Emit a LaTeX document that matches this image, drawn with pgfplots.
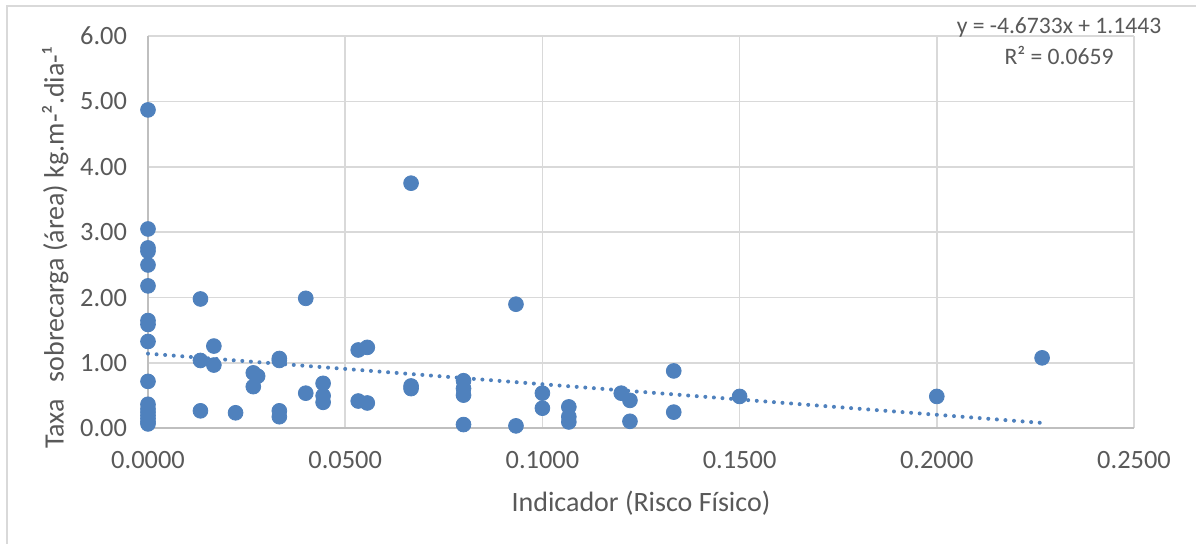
\documentclass[border=0pt]{standalone}
\usepackage{pgfplots}
\pgfplotsset{compat=1.18}
\usepackage{fontspec}
\setmainfont{Carlito}
\definecolor{ptblue}{RGB}{79,129,189}
\definecolor{gridgray}{RGB}{217,217,217}
\definecolor{axgray}{RGB}{191,191,191}
\definecolor{txtgray}{RGB}{89,89,89}
\begin{document}
\begin{tikzpicture}[x=0.5pt,y=0.5pt]
\useasboundingbox (0,0) rectangle (1196,544);
\fill[white] (0,0) rectangle (1196,544);
\draw[gridgray,line width=0.75pt] (7,0) -- (7,538) -- (1196,538);
\begin{axis}[
  at={(74pt,57.75pt)}, anchor=origin,
  scale only axis, width=493pt, height=196.25pt,
  xmin=0, xmax=0.25, ymin=0, ymax=6,
  xtick={0,0.05,0.1,0.15,0.2,0.25},
  ytick={0,1,2,3,4,5,6},
  grid=major,
  major grid style={gridgray,line width=0.75pt},
  axis x line*=bottom, axis y line*=left,
  axis line style={axgray,line width=1pt,-},
  major tick length=0pt,
  x tick label style={/pgf/number format/fixed,/pgf/number format/fixed zerofill,/pgf/number format/precision=4,/pgf/number format/assume math mode=true,yshift=-8pt},
  y tick label style={/pgf/number format/fixed,/pgf/number format/fixed zerofill,/pgf/number format/precision=2,/pgf/number format/assume math mode=true,xshift=-7pt},
  tick label style={font=\fontsize{13.2}{15}\selectfont,text=txtgray},
  xlabel={Indicador (Risco Físico)},
  ylabel={Taxa\hspace{0.6em}sobrecarga (área) kg.m-².dia-¹},
  label style={font=\fontsize{14}{16}\selectfont,text=txtgray},
  xlabel style={yshift=-4pt},
  ylabel style={yshift=-1pt,xshift=-8pt},
  clip=false,
]
\addplot[only marks, mark=*, mark size=3.7pt, mark options={fill=ptblue,draw=ptblue}] coordinates {
(0,4.87) (0,3.05) (0,2.76) (0,2.71) (0,2.50) (0,2.18) (0,1.65) (0,1.59) (0,1.33) (0,0.72) (0,0.37) (0,0.30) (0,0.25) (0,0.20) (0,0.15) (0,0.10) (0,0.07)
(0.0133,1.98) (0.0133,1.04) (0.0133,0.27)
(0.0167,1.26) (0.0167,0.97)
(0.0222,0.24)
(0.0267,0.85) (0.0267,0.64)
(0.0278,0.80)
(0.0333,1.07) (0.0333,1.04) (0.0333,0.27) (0.0333,0.18)
(0.04,1.99) (0.04,0.54)
(0.0444,0.69) (0.0444,0.50) (0.0444,0.40)
(0.0533,1.20) (0.0533,0.42)
(0.0556,1.24) (0.0556,0.39)
(0.0667,3.75) (0.0667,0.65) (0.0667,0.61)
(0.08,0.73) (0.08,0.61) (0.08,0.51) (0.08,0.06)
(0.0933,1.90) (0.0933,0.04)
(0.1,0.54) (0.1,0.31)
(0.1067,0.33) (0.1067,0.18) (0.1067,0.10)
(0.12,0.54)
(0.1222,0.43) (0.1222,0.11)
(0.1333,0.88) (0.1333,0.25)
(0.15,0.49)
(0.2,0.49)
(0.2267,1.08)
};
\addplot[ptblue, line width=2pt, line cap=round, dash pattern=on 0pt off 4.3pt, no marks] coordinates {(0,1.1443) (0.2267,0.0849)};
\end{axis}
\node[text=txtgray,font=\fontsize{11.8}{13}\selectfont,align=center] at (1059,517) {y = -4.6733x + 1.1443};
\node[text=txtgray,font=\fontsize{11.8}{13}\selectfont,align=center] at (1059,488) {R² = 0.0659};
\end{tikzpicture}
\end{document}
